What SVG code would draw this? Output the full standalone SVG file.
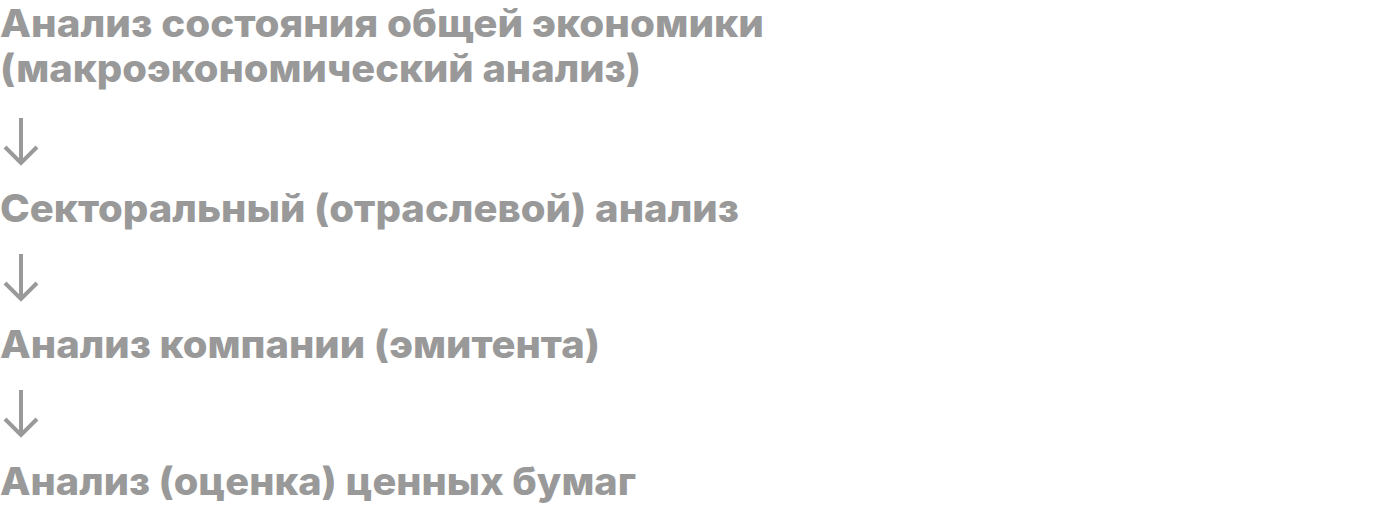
<svg xmlns="http://www.w3.org/2000/svg" width="1400" height="506" viewBox="0 0 1400 506">
<style>
.t{font-family:Inter,"Noto Sans","Liberation Sans",sans-serif;font-weight:800;font-size:38px;fill:#999999}
.c{fill:none;stroke:#999999;stroke-width:4;stroke-linejoin:miter;stroke-linecap:butt}
</style>
<rect width="1400" height="506" fill="#ffffff"/>
<g id="node-macro">
<text class="t" x="0" y="37" textLength="764" lengthAdjust="spacingAndGlyphs">Анализ состояния общей экономики</text>
<text class="t" x="0" y="82" textLength="641" lengthAdjust="spacingAndGlyphs">(макроэкономический анализ)</text>
</g>
<g id="node-sector">
<text class="t" x="0" y="222" textLength="739" lengthAdjust="spacingAndGlyphs">Секторальный (отраслевой) анализ</text>
</g>
<g id="node-company">
<text class="t" x="0" y="358" textLength="600" lengthAdjust="spacingAndGlyphs">Анализ компании (эмитента)</text>
</g>
<g id="node-securities">
<text class="t" x="0" y="495" textLength="636" lengthAdjust="spacingAndGlyphs">Анализ (оценка) ценных бумаг</text>
</g>
<g id="connectors">
<path class="c" d="M21 118V162M5 147L21 163L37 147"/>
<path class="c" d="M21 254V298M5 283L21 299L37 283"/>
<path class="c" d="M21 390V434M5 419L21 435L37 419"/>
</g>
</svg>
